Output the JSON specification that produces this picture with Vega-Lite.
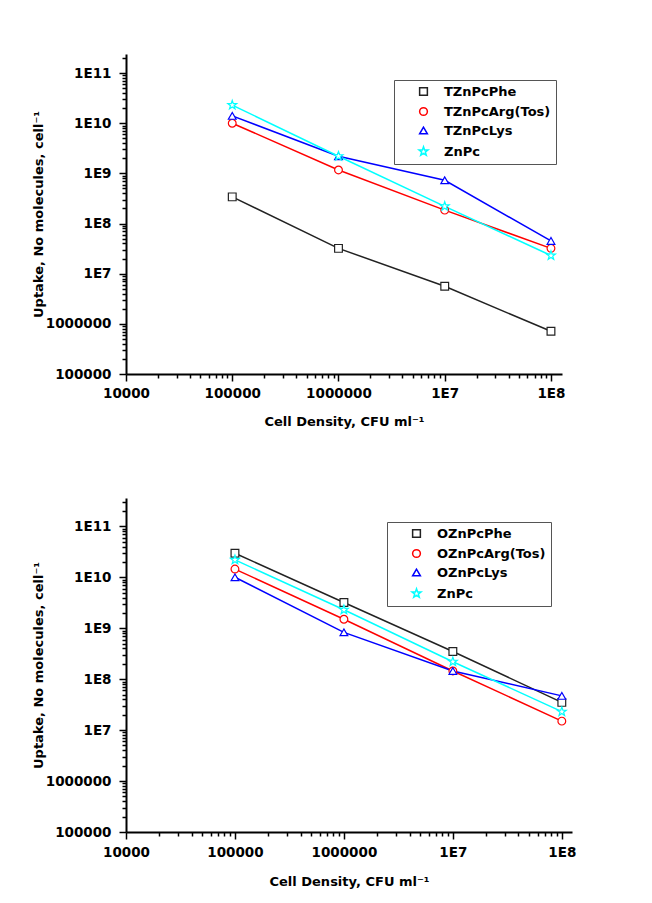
{
  "$schema": "https://vega.github.io/schema/vega-lite/v6.json",
  "background": "white",
  "padding": {"left": 32, "top": 50, "right": 5, "bottom": 5},
  "spacing": 66,
  "config": {
    "view": {"stroke": null},
    "axis": {
      "labelFont": "DejaVu Sans", "labelFontWeight": "bold", "labelFontSize": 13.5, "labelColor": "black",
      "titleFont": "DejaVu Sans", "titleFontWeight": "bold", "titleFontSize": 13, "titleColor": "black",
      "domainColor": "black", "domainWidth": 2, "tickColor": "black", "tickWidth": 1.5,
      "grid": false, "labelOverlap": false, "labelFlush": false, "labelBound": false
    },
    "legend": {
      "orient": "none", "title": null,
      "symbolSize": 60, "symbolOffset": 18, "labelOffset": 14, "rowPadding": 5, "padding": 5,
      "strokeColor": "#555555", "fillColor": "white",
      "labelFont": "DejaVu Sans", "labelFontWeight": "bold", "labelFontSize": 13, "labelColor": "black",
      "symbolStrokeWidth": 1.5, "symbolFillColor": "white"
    }
  },
  "resolve": {"scale": {"color": "independent", "shape": "independent"}},
  "datasets": {
    "top": [
      {"series": "TZnPcPhe", "density": 100000, "uptake": 340000000},
      {"series": "TZnPcPhe", "density": 1000000, "uptake": 32000000},
      {"series": "TZnPcPhe", "density": 10000000, "uptake": 5600000},
      {"series": "TZnPcPhe", "density": 100000000, "uptake": 710000},
      {"series": "TZnPcArg(Tos)", "density": 100000, "uptake": 10000000000},
      {"series": "TZnPcArg(Tos)", "density": 1000000, "uptake": 1170000000},
      {"series": "TZnPcArg(Tos)", "density": 10000000, "uptake": 185000000},
      {"series": "TZnPcArg(Tos)", "density": 100000000, "uptake": 32000000},
      {"series": "TZnPcLys", "density": 100000, "uptake": 14000000000},
      {"series": "TZnPcLys", "density": 1000000, "uptake": 2200000000},
      {"series": "TZnPcLys", "density": 10000000, "uptake": 730000000},
      {"series": "TZnPcLys", "density": 100000000, "uptake": 45000000},
      {"series": "ZnPc", "density": 100000, "uptake": 23000000000},
      {"series": "ZnPc", "density": 1000000, "uptake": 2200000000},
      {"series": "ZnPc", "density": 10000000, "uptake": 220000000},
      {"series": "ZnPc", "density": 100000000, "uptake": 23000000}
    ],
    "bottom": [
      {"series": "OZnPcPhe", "density": 100000, "uptake": 29600000000},
      {"series": "OZnPcPhe", "density": 1000000, "uptake": 3200000000},
      {"series": "OZnPcPhe", "density": 10000000, "uptake": 350000000},
      {"series": "OZnPcPhe", "density": 100000000, "uptake": 35000000},
      {"series": "OZnPcArg(Tos)", "density": 100000, "uptake": 14500000000},
      {"series": "OZnPcArg(Tos)", "density": 1000000, "uptake": 1500000000},
      {"series": "OZnPcArg(Tos)", "density": 10000000, "uptake": 145000000},
      {"series": "OZnPcArg(Tos)", "density": 100000000, "uptake": 15000000},
      {"series": "OZnPcLys", "density": 100000, "uptake": 10000000000},
      {"series": "OZnPcLys", "density": 1000000, "uptake": 830000000},
      {"series": "OZnPcLys", "density": 10000000, "uptake": 145000000},
      {"series": "OZnPcLys", "density": 100000000, "uptake": 47000000},
      {"series": "ZnPc", "density": 100000, "uptake": 22000000000},
      {"series": "ZnPc", "density": 1000000, "uptake": 2300000000},
      {"series": "ZnPc", "density": 10000000, "uptake": 220000000},
      {"series": "ZnPc", "density": 100000000, "uptake": 23000000}
    ]
  },
  "vconcat": [
    {
      "width": 436,
      "height": 320,
      "data": {"name": "top"},
      "encoding": {
        "x": {"field": "density", "type": "quantitative",
          "scale": {"type": "log", "domain": [10000, 127000000], "nice": false},
          "axis": {"title": "Cell Density, CFU ml⁻¹",
            "values": [10000,20000,30000,40000,50000,60000,70000,80000,90000,100000,200000,300000,400000,500000,600000,700000,800000,900000,1000000,2000000,3000000,4000000,5000000,6000000,7000000,8000000,9000000,10000000,20000000,30000000,40000000,50000000,60000000,70000000,80000000,90000000,100000000],
            "labelExpr": "abs(log(datum.value)/LN10 - round(log(datum.value)/LN10)) < 0.001 ? (datum.value >= 10000000 ? '1E' + round(log(datum.value)/LN10) : format(datum.value, 'd')) : ''",
            "tickSize": {"condition": {"test": "abs(log(datum.value)/LN10 - round(log(datum.value)/LN10)) < 0.001", "value": 7}, "value": 4},
            "labelPadding": 5, "titlePadding": 16}},
        "y": {"field": "uptake", "type": "quantitative",
          "scale": {"type": "log", "domain": [100000, 240000000000], "nice": false},
          "axis": {"title": "Uptake, No molecules, cell⁻¹",
            "values": [100000,200000,300000,400000,500000,600000,700000,800000,900000,1000000,2000000,3000000,4000000,5000000,6000000,7000000,8000000,9000000,10000000,20000000,30000000,40000000,50000000,60000000,70000000,80000000,90000000,100000000,200000000,300000000,400000000,500000000,600000000,700000000,800000000,900000000,1000000000,2000000000,3000000000,4000000000,5000000000,6000000000,7000000000,8000000000,9000000000,10000000000,20000000000,30000000000,40000000000,50000000000,60000000000,70000000000,80000000000,90000000000,100000000000,200000000000],
            "labelExpr": "abs(log(datum.value)/LN10 - round(log(datum.value)/LN10)) < 0.001 ? (datum.value >= 10000000 ? '1E' + round(log(datum.value)/LN10) : format(datum.value, 'd')) : ''",
            "tickSize": {"condition": {"test": "abs(log(datum.value)/LN10 - round(log(datum.value)/LN10)) < 0.001", "value": 7}, "value": 4},
            "labelPadding": 8, "titlePadding": 0}},
        "color": {"field": "series", "type": "nominal",
          "scale": {"domain": ["TZnPcPhe", "TZnPcArg(Tos)", "TZnPcLys", "ZnPc"], "range": ["#222222", "#ff0000", "#0000ff", "#00ffff"]},
          "legend": {"orient": "none", "legendX": 268, "legendY": 26}}
      },
      "layer": [
        {"mark": {"type": "line", "strokeWidth": 1.5}},
        {
          "mark": {"type": "point", "filled": false, "fill": "white", "size": 60, "strokeWidth": 1.2, "opacity": 1},
          "encoding": {
            "shape": {"field": "series", "type": "nominal",
              "scale": {"domain": ["TZnPcPhe", "TZnPcArg(Tos)", "TZnPcLys", "ZnPc"], "range": ["square", "circle", "triangle-up", "M0,-1.2L0.28,-0.39L1.14,-0.37L0.46,0.15L0.71,0.97L0,0.48L-0.71,0.97L-0.46,0.15L-1.14,-0.37L-0.28,-0.39Z"]},
              "legend": null}
          }
        }
      ]
    },
    {
      "width": 446,
      "height": 334,
      "data": {"name": "bottom"},
      "encoding": {
        "x": {"field": "density", "type": "quantitative",
          "scale": {"type": "log", "domain": [10000, 124000000], "nice": false},
          "axis": {"title": "Cell Density, CFU ml⁻¹",
            "values": [10000,20000,30000,40000,50000,60000,70000,80000,90000,100000,200000,300000,400000,500000,600000,700000,800000,900000,1000000,2000000,3000000,4000000,5000000,6000000,7000000,8000000,9000000,10000000,20000000,30000000,40000000,50000000,60000000,70000000,80000000,90000000,100000000],
            "labelExpr": "abs(log(datum.value)/LN10 - round(log(datum.value)/LN10)) < 0.001 ? (datum.value >= 10000000 ? '1E' + round(log(datum.value)/LN10) : format(datum.value, 'd')) : ''",
            "tickSize": {"condition": {"test": "abs(log(datum.value)/LN10 - round(log(datum.value)/LN10)) < 0.001", "value": 7}, "value": 4},
            "labelPadding": 6, "titlePadding": 17}},
        "y": {"field": "uptake", "type": "quantitative",
          "scale": {"type": "log", "domain": [100000, 360000000000], "nice": false},
          "axis": {"title": "Uptake, No molecules, cell⁻¹",
            "values": [100000,200000,300000,400000,500000,600000,700000,800000,900000,1000000,2000000,3000000,4000000,5000000,6000000,7000000,8000000,9000000,10000000,20000000,30000000,40000000,50000000,60000000,70000000,80000000,90000000,100000000,200000000,300000000,400000000,500000000,600000000,700000000,800000000,900000000,1000000000,2000000000,3000000000,4000000000,5000000000,6000000000,7000000000,8000000000,9000000000,10000000000,20000000000,30000000000,40000000000,50000000000,60000000000,70000000000,80000000000,90000000000,100000000000,200000000000,300000000000],
            "labelExpr": "abs(log(datum.value)/LN10 - round(log(datum.value)/LN10)) < 0.001 ? (datum.value >= 10000000 ? '1E' + round(log(datum.value)/LN10) : format(datum.value, 'd')) : ''",
            "tickSize": {"condition": {"test": "abs(log(datum.value)/LN10 - round(log(datum.value)/LN10)) < 0.001", "value": 7}, "value": 4},
            "labelPadding": 8, "titlePadding": 0}},
        "color": {"field": "series", "type": "nominal",
          "scale": {"domain": ["OZnPcPhe", "OZnPcArg(Tos)", "OZnPcLys", "ZnPc"], "range": ["#222222", "#ff0000", "#0000ff", "#00ffff"]},
          "legend": {"orient": "none", "legendX": 261, "legendY": 24}}
      },
      "layer": [
        {"mark": {"type": "line", "strokeWidth": 1.5}},
        {
          "mark": {"type": "point", "filled": false, "fill": "white", "size": 60, "strokeWidth": 1.2, "opacity": 1},
          "encoding": {
            "shape": {"field": "series", "type": "nominal",
              "scale": {"domain": ["OZnPcPhe", "OZnPcArg(Tos)", "OZnPcLys", "ZnPc"], "range": ["square", "circle", "triangle-up", "M0,-1.2L0.28,-0.39L1.14,-0.37L0.46,0.15L0.71,0.97L0,0.48L-0.71,0.97L-0.46,0.15L-1.14,-0.37L-0.28,-0.39Z"]},
              "legend": null}
          }
        }
      ]
    }
  ]
}
